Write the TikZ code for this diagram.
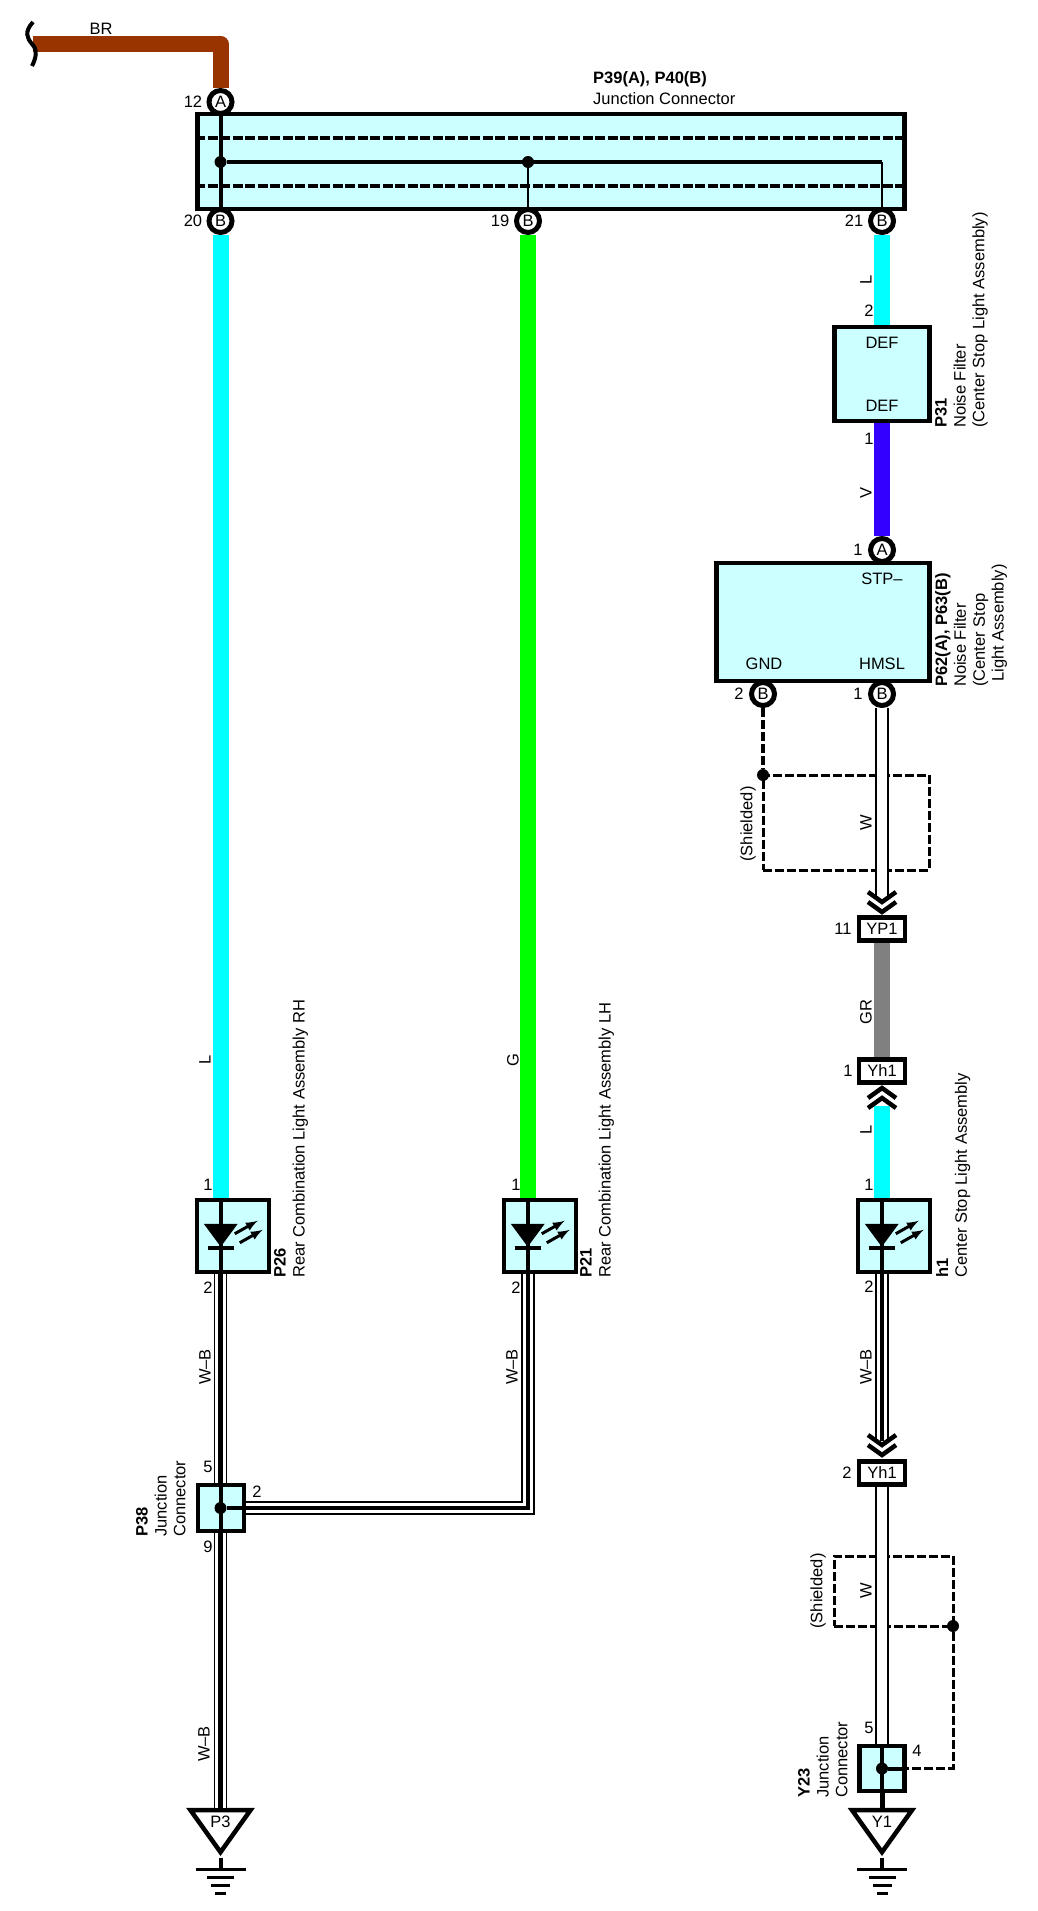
\documentclass[tikz,border=0pt]{standalone}
\usepackage{fontspec}
\setmainfont{Liberation Sans}
\usetikzlibrary{shapes,arrows}

\definecolor{pale}{HTML}{CCFFFF}
\definecolor{wireBR}{HTML}{993300}
\definecolor{wireL}{HTML}{00FFFF}
\definecolor{wireG}{HTML}{00FF00}
\definecolor{wireV}{HTML}{3300FF}
\definecolor{wireGR}{HTML}{808080}

\tikzset{
  lbl/.style={inner sep=0pt,font=\fontsize{16.5}{19}\selectfont},
  side/.style={lbl,rotate=90},
  tag/.style={lbl,rotate=90,anchor=north west,align=left,font=\fontsize{16.5}{18.8}\selectfont},
  box/.style={rectangle,draw,line width=4.5pt,fill=pale,inner sep=0pt},
  term/.style={lbl,circle,draw,line width=5pt,fill=white,minimum size=23pt},
  conn/.style={lbl,rectangle,draw,line width=4.5pt,fill=white,minimum width=46pt,minimum height=23pt},
  wire/.style={line width=16pt,line join=round},
  wwire/.style={draw=black,line width=13.5pt,postaction={draw=white,line width=10.5pt}},
  wbwire/.style={draw=black,line width=13.5pt,postaction={draw=white,line width=10.5pt},postaction={draw=black,line width=4.5pt}},
  stem/.style={line width=4pt},
  fine/.style={line width=2pt},
  dot/.style={circle,fill=black,inner sep=0pt,minimum size=12pt},
  shield/.style={rectangle,draw,line width=3pt,dash pattern=on 9pt off 3pt,inner sep=0pt,outer sep=0pt},
  chev/.style={line width=4.5pt},
  gnd/.style={lbl,draw,fill=white,line width=4.5pt,isosceles triangle,isosceles triangle stretches,shape border rotate=270,minimum width=60pt,minimum height=42pt,anchor=apex},
}

\begin{document}
\begin{tikzpicture}[x=1pt,y=-1pt]
\useasboundingbox (0,0) rectangle (1038,1911);

% junction connector
\node [box,minimum width=707pt,minimum height=95pt] (p39) at (551,161.5) {};
\node [term] (a12) at (220.5,102) {A};
\node [term] (b20) at (220.5,221) {B};
\node [term] (b19) at (528,221) {B};
\node [term] (b21) at (882,221) {B};
\node [dot] (d20) at (220.5,162) {};
\node [dot] (d19) at (528,162) {};
\draw [line width=4.5pt,dash pattern=on 10pt off 2.5pt] (p39.west |- 0,138) -- (p39.east |- 0,138);
\draw [line width=3.5pt,dash pattern=on 10pt off 2.5pt] (p39.west |- 0,186) -- (p39.east |- 0,186);
\draw [stem] (a12) -- (b20);
\draw [stem] (d20) -- (d19 -| b21);
\draw [fine] (d19) -- (b19);
\draw [fine] (d19 -| b21) -- (b21);

\coordinate (brk) at (33,44);
\draw [wire,draw=wireBR] (brk) -| (a12);
\draw [line width=4pt] (33,22) .. controls (24,32) and (27,38) .. (32,44) .. controls (38,50) and (36,58) .. (32,66);

\node [lbl] (tBR) at (101,29) {BR};
\node [lbl,anchor=west,font=\fontsize{16.5}{19}\selectfont\bfseries] (tp39) at (593,79) {P39(A), P40(B)};
\node [lbl,anchor=west] (tjc) at (593,99) {Junction Connector};
\node [lbl] (n12) at (193,102) {12};
\node [lbl] (n20) at (193,221) {20};
\node [lbl] (n19) at (500,221) {19};
\node [lbl] (n21) at (854,221) {21};

% noise filter
\node [box,minimum width=95pt,minimum height=94pt] (p31) at (882,374) {};
\node [lbl] (def1) at (882,343) {DEF};
\node [lbl] (def2) at (882,406) {DEF};
\node [term] (a1) at (882,550) {A};
\node [box,minimum width=213pt,minimum height=118pt] (p62) at (823,622) {};
\node [lbl] (stp) at (882,579) {STP--};
\node [lbl] (gnd) at (764,664) {GND};
\node [lbl] (hmsl) at (882,664) {HMSL};
\node [term] (b2) at (763,694) {B};
\node [term] (b1) at (882,694) {B};
\draw [wire,draw=wireL] (b21) -- (b21 |- p31.north);
\draw [wire,draw=wireV] (b21 |- p31.south) -- (a1);

\node [side] (tL1) at (866,280) {L};
\node [lbl] (n2a) at (869,311) {2};
\node [lbl] (n1a) at (869,439) {1};
\node [side] (tV) at (866,493) {V};
\node [lbl] (n1b) at (858,550) {1};
\node [lbl] (n2b) at (739,694) {2};
\node [lbl] (n1c) at (858,694) {1};
\node [tag] (tp31) at (935,428) {\textbf{P31}\\Noise Filter\\(Center Stop Light Assembly)};
\node [tag] (tp62) at (935,687) {\textbf{P62(A), P63(B)}\\Noise Filter\\(Center Stop\\\hspace*{5pt}Light Assembly)};

% shielded run
\node [shield,minimum width=166pt,minimum height=95pt] (sh1) at (846,822.5) {};
\node [dot] (d1) at (sh1.north west) {};
\draw [line width=3.5pt,dash pattern=on 9pt off 3pt] (b2) -- (d1);
\node [conn] (yp1) at (882,929) {YP1};
\node [conn] (yh1) at (882,1071) {Yh1};
\coordinate (yp1in) at (882,898);
\draw [wwire] (b1) -- (yp1in);
\foreach \y in {892,902} {
  \draw [chev] (868,\y) -- (882,\y+10) -- (896,\y);
}
\draw [wire,draw=wireGR] (yp1) -- (yh1);
\coordinate (yh1out) at (882,1106);
\node [box,minimum width=72pt,minimum height=72pt] (h1) at (894,1236) {};
\draw [wire,draw=wireL] (yh1out) -- (yh1out |- h1.north);
\foreach \y in {1098,1108} {
  \draw [chev] (868,\y) -- (882,\y-10) -- (896,\y);
}

\node [side] (tW1) at (866,823) {W};
\node [side] (tsh1) at (748,824) {(Shielded)};
\node [lbl] (n11) at (843,929) {11};
\node [side] (tGR) at (866,1012) {GR};
\node [lbl] (n1d) at (848,1071) {1};
\node [side] (tL2) at (866,1130) {L};
\node [lbl] (n1e) at (869,1185) {1};
\node [lbl] (n2c) at (869,1287) {2};
\node [tag] (th1) at (936,1278) {\textbf{h1}\\Center Stop Light Assembly};

% lamps
\node [box,minimum width=72pt,minimum height=72pt] (p26) at (233,1236) {};
\node [box,minimum width=72pt,minimum height=72pt] (p21) at (540,1236) {};
\foreach \lamp in {p26,p21,h1} {
  \begin{scope}[shift={(\lamp.north west)}]
    \fill (9,26) -- (43,26) -- (26,49) -- cycle;
    \draw [line width=3.5pt] (13,50) -- (39,50);
    \draw [-latex,line width=3pt] (40,36) -- (63,23);
    \draw [-latex,line width=3pt] (45,45) -- (68,32);
  \end{scope}
}
\draw [wire,draw=wireL] (b20) -- (b20 |- p26.north);
\draw [wire,draw=wireG] (b19) -- (b19 |- p21.north);
\draw [stem] (b20 |- p26.north) -- (b20 |- p26.south);
\draw [stem] (b19 |- p21.north) -- (b19 |- p21.south);
\draw [stem] (b21 |- h1.north) -- (b21 |- h1.south);

\node [side] (tL3) at (205,1060) {L};
\node [side] (tG) at (513,1060) {G};
\node [lbl] (n1f) at (208,1185) {1};
\node [lbl] (n1g) at (516,1185) {1};
\node [lbl] (n2d) at (208,1288) {2};
\node [lbl] (n2e) at (516,1288) {2};
\node [tag] (tp26) at (274,1278) {\textbf{P26}\\Rear Combination Light Assembly RH};
\node [tag] (tp21) at (580,1278) {\textbf{P21}\\Rear Combination Light Assembly LH};

% ground side, left
\node [box,minimum width=46pt,minimum height=46pt] (p38) at (221,1508) {};
\node [dot] (d38) at (220.5,1508) {};
\node [gnd] (p3) at (220.5,1858) {\raisebox{-3pt}{P3}};
\draw [wbwire] (b20 |- p26.south) -- (b20 |- p38.north);
\draw [wbwire] (b20 |- p38.south) -- (b20 |- p3.lower side);
\draw [wbwire] (p38.east |- d38) -| (b19 |- p21.south);
\draw [stem] (b20 |- p38.north) -- (b20 |- p38.south);
\draw [stem] (d38) -- (p38.east |- d38);
\draw [stem] (p3.apex) -- ++(0,12);

\node [side] (tWB1) at (205,1367) {W--B};
\node [side] (tWB2) at (512,1367) {W--B};
\node [side] (tWB3) at (204,1744) {W--B};
\node [lbl] (n5a) at (208,1467) {5};
\node [lbl] (n9) at (208,1547) {9};
\node [lbl] (n2f) at (257,1492) {2};
\node [tag] (tp38) at (136,1537) {\textbf{P38}\\Junction\\Connector};

% ground side, right
\node [conn] (yh2) at (882,1473) {Yh1};
\coordinate (yh2in) at (882,1441);
\draw [wbwire] (b21 |- h1.south) -- (yh2in);
\foreach \y in {1435,1445} {
  \draw [chev] (868,\y) -- (882,\y+10) -- (896,\y);
}
\node [shield,minimum width=119pt,minimum height=70pt] (sh2) at (893.5,1591) {};
\node [box,minimum width=45pt,minimum height=45pt] (y23) at (882,1768.5) {};
\node [dot] (d23) at (882,1768.5) {};
\node [dot] (d2) at (sh2.south east) {};
\node [gnd] (y1) at (882,1858) {\raisebox{-3pt}{Y1}};
\draw [wwire] (yh2) -- (y23);
\draw [stem] (y23.north) -- (y23.south);
\draw [stem] (d23) -- (y23.east);
\draw [line width=3pt,dash pattern=on 9pt off 3pt] (d2) |- (y23.east);
\draw [line width=5pt] (y23.south) -- (y1.lower side);
\draw [stem] (y1.apex) -- ++(0,12);

\node [lbl] (n2g) at (847,1473) {2};
\node [side] (tWB4) at (866,1367) {W--B};
\node [side] (tW2) at (866,1591) {W};
\node [side] (tsh2) at (818,1591) {(Shielded)};
\node [lbl] (n5b) at (869,1728) {5};
\node [lbl] (n4) at (917,1751) {4};
\node [tag] (ty23) at (798,1798) {\textbf{Y23}\\Junction\\Connector};

% earth bars
\foreach \x in {220.5,882} {
  \draw [line width=3pt] (\x-25,1869) -- (\x+25,1869);
  \draw [line width=3pt] (\x-13.5,1877) -- (\x+13.5,1877);
  \draw [line width=3pt] (\x-9.5,1885) -- (\x+9.5,1885);
  \draw [line width=3pt] (\x-5.5,1893) -- (\x+5.5,1893);
}

\end{tikzpicture}
\end{document}
